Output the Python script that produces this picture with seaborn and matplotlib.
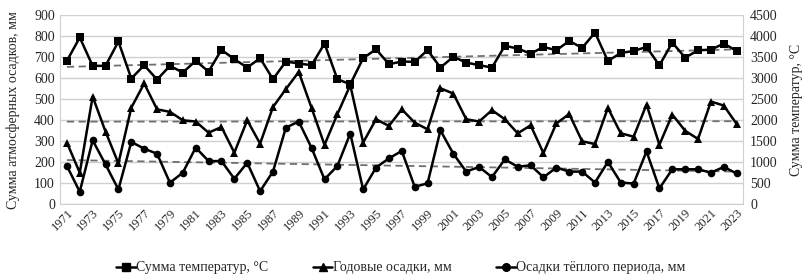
import numpy as np
import pandas as pd
import matplotlib
matplotlib.use("Agg")
import matplotlib.pyplot as plt
import seaborn as sns
from matplotlib.lines import Line2D

# values
years = list(range(1971, 2024))
temp_sum = [3413, 3968, 3294, 3294, 3873, 2992, 3310, 2968, 3294, 3135,
            3413, 3159, 3675, 3452, 3254, 3476, 2976, 3397, 3349, 3310,
            3825, 2976, 2857, 3476, 3690, 3333, 3397, 3389, 3667, 3254,
            3508, 3373, 3310, 3254, 3770, 3706, 3584, 3744, 3664, 3887,
            3720, 4086, 3409, 3600, 3648, 3744, 3305, 3847, 3489, 3664,
            3680, 3823, 3648]
annual_prec = [294, 151, 513, 346, 195, 460, 575, 452, 440, 400,
               394, 341, 368, 246, 400, 289, 463, 548, 630, 458,
               283, 429, 567, 294, 405, 373, 452, 389, 357, 552,
               527, 405, 394, 448, 405, 338, 376, 244, 385, 430,
               300, 287, 459, 338, 322, 475, 284, 427, 350, 311,
               489, 470, 382]
warm_prec = [183, 60, 305, 190, 71, 297, 265, 241, 103, 151,
             270, 206, 206, 122, 198, 63, 156, 365, 394, 268,
             119, 183, 337, 71, 175, 219, 254, 84, 100, 352,
             241, 156, 178, 130, 214, 179, 186, 129, 175, 156,
             156, 104, 202, 104, 99, 252, 76, 167, 167, 167,
             151, 178, 147]

df = pd.DataFrame({"year": years, "temp": temp_sum,
                   "annual": annual_prec, "warm": warm_prec})

sns.set_style("white")
plt.rcParams["font.family"] = ["Liberation Serif", "DejaVu Serif"]

fig, ax = plt.subplots(figsize=(8.06, 2.8), dpi=100)
fig.subplots_adjust(left=0.075, right=0.922, top=0.946, bottom=0.27)
ax2 = ax.twinx()

# grid behind everything
ax.set_axisbelow(True)
ax.yaxis.grid(True, color="#d0d0d0", lw=1)

line_kw = dict(color="black", lw=1.8, markersize=5.5, markeredgewidth=0)
sns.lineplot(data=df, x="year", y="annual", ax=ax, marker="^", **line_kw)
sns.lineplot(data=df, x="year", y="warm", ax=ax, marker="o", **line_kw)
sns.lineplot(data=df, x="year", y="temp", ax=ax2, marker="s", **line_kw)

# linear trends, like spreadsheet trendlines
yr = np.array(years)
for axis, col in [(ax, "annual"), (ax, "warm"), (ax2, "temp")]:
    k, b = np.polyfit(yr, df[col].values, 1)
    axis.plot(yr, k * yr + b, ls=(0, (4, 2.5)), color="#707070", lw=1.3, zorder=1)

ax.set_xlim(1970.5, 2023.5)
ax.set_ylim(0, 900)
ax.set_yticks(range(0, 901, 100))
ax2.set_ylim(0, 4500)
ax2.set_yticks(range(0, 4501, 500))
ax.set_xticks(years[::2])
ax.set_xticklabels([str(y) for y in years[::2]], rotation=45, ha="right",
                   rotation_mode="anchor", fontsize=9)
ax.tick_params(axis="y", labelsize=10, length=0, pad=4)
ax2.tick_params(axis="y", labelsize=10, length=0, pad=5)
ax.tick_params(axis="x", length=0, pad=2)

ax.set_xlabel("")
ax.set_ylabel("Сумма атмосферных осадков, мм", fontsize=10, labelpad=10)
ax2.set_ylabel("Сумма температур, °C", fontsize=10, labelpad=9)

for a in (ax, ax2):
    for s in a.spines.values():
        s.set_visible(False)
for side in ("left", "bottom"):
    ax.spines[side].set_visible(True)
    ax.spines[side].set_color("#d0d0d0")
ax2.spines["right"].set_visible(True)
ax2.spines["right"].set_color("#d0d0d0")

handles = [
    Line2D([], [], color="black", lw=1.8, marker="s", markersize=5.5),
    Line2D([], [], color="black", lw=1.8, marker="^", markersize=5.5),
    Line2D([], [], color="black", lw=1.8, marker="o", markersize=5.5),
]
labels = ["Сумма температур, °C", "Годовые осадки, мм", "Осадки тёплого периода, мм"]
fig.legend(handles, labels, loc="center", bbox_to_anchor=(0.4975, 0.043),
           ncol=3, frameon=False, fontsize=10, handlelength=1.4,
           handletextpad=0.05, columnspacing=3.2, borderpad=0)

fig.savefig("out.png", dpi=100)
